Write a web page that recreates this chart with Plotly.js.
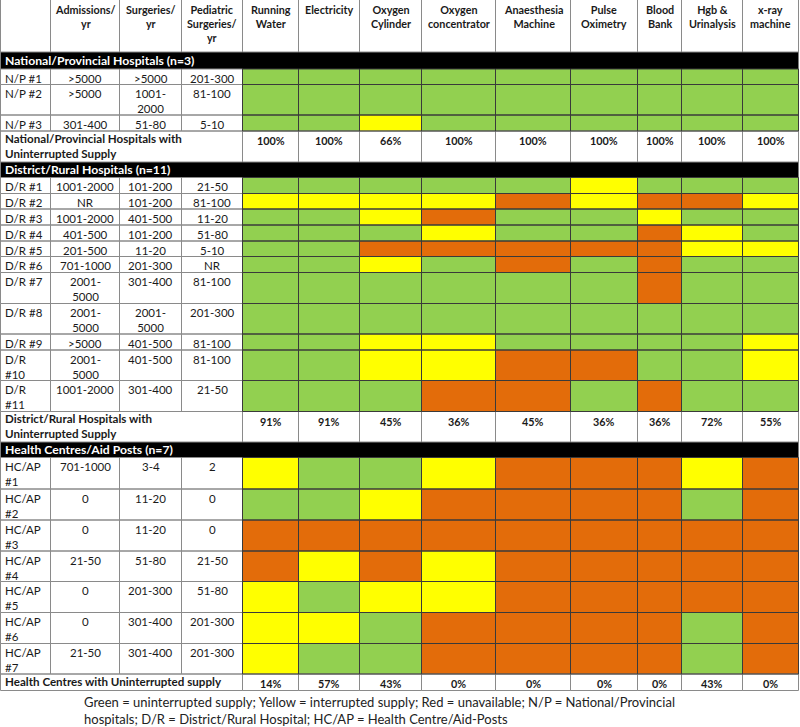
<!DOCTYPE html>
<html><head><meta charset="utf-8">
<script src="https://cdn.plot.ly/plotly-3.0.1.min.js"></script>
<style>html,body{margin:0;padding:0;background:#fff}</style>
</head><body><div id="chart" style="width:800px;height:727px"></div>
<script>
// ---------------- DATA ----------------
const columns = ["", "Admissions/<br>yr", "Surgeries/<br>yr", "Pediatric<br>Surgeries/<br>yr",
  "Running<br>Water", "Electricity", "Oxygen<br>Cylinder", "Oxygen<br>concentrator",
  "Anaesthesia<br>Machine", "Pulse<br>Oximetry", "Blood<br>Bank", "Hgb &<br>Urinalysis", "x-ray<br>machine"];

// Status codes: G = uninterrupted supply, Y = interrupted supply, R = unavailable
const npTitle = "National/Provincial Hospitals (n=3)";
const npLabels = ["N/P #1", "N/P #2", "N/P #3"];
const npAdmissions = [">5000", ">5000", "301-400"];
const npSurgeries = [">5000", "1001-<br>2000", "51-80"];
const npPediatric = ["201-300", "81-100", "5-10"];
const npStatus = ["GGGGGGGGG", "GGGGGGGGG", "GGYGGGGGG"];
const npSummaryLabel = "National/Provincial Hospitals with<br>Uninterrupted Supply";
const npSummary = ["100%", "100%", "66%", "100%", "100%", "100%", "100%", "100%", "100%"];

const drTitle = "District/Rural Hospitals (n=11)";
const drLabels = ["D/R #1", "D/R #2", "D/R #3", "D/R #4", "D/R #5", "D/R #6", "D/R #7", "D/R #8", "D/R #9", "D/R<br>#10", "D/R<br>#11"];
const drAdmissions = ["1001-2000", "NR", "1001-2000", "401-500", "201-500", "701-1000", "2001-<br>5000", "2001-<br>5000", ">5000", "2001-<br>5000", "1001-2000"];
const drSurgeries = ["101-200", "101-200", "401-500", "101-200", "11-20", "201-300", "301-400", "2001-<br>5000", "401-500", "401-500", "301-400"];
const drPediatric = ["21-50", "81-100", "11-20", "51-80", "5-10", "NR", "81-100", "201-300", "81-100", "81-100", "21-50"];
const drStatus = ["GGGGGYGGG", "YYYYRYRRY", "GGYRGGYGG", "GGGYGGRYG", "GGRRRRRYY", "GGYGRGRGG",
  "GGGGGGRGG", "GGGGGGGGG", "GGYYGGGGY", "GGYYRRGGY", "GGGRRGRGG"];
const drSummaryLabel = "District/Rural Hospitals with<br>Uninterrupted Supply";
const drSummary = ["91%", "91%", "45%", "36%", "45%", "36%", "36%", "72%", "55%"];

const hcTitle = "Health Centres/Aid Posts (n=7)";
const hcLabels = ["HC/AP<br>#1", "HC/AP<br>#2", "HC/AP<br>#3", "HC/AP<br>#4", "HC/AP<br>#5", "HC/AP<br>#6", "HC/AP<br>#7"];
const hcAdmissions = ["701-1000", "0", "0", "21-50", "0", "0", "21-50"];
const hcSurgeries = ["3-4", "11-20", "11-20", "51-80", "201-300", "301-400", "301-400"];
const hcPediatric = ["2", "0", "0", "21-50", "51-80", "201-300", "201-300"];
const hcStatus = ["YGGYRRRYR", "GGYRRRRGR", "RRRRRRRRR", "RYRYRRRRR", "YGYYRRRRR", "YYGRRRRGR", "YGGRRRRGR"];
const hcSummaryLabel = "Health Centres with Uninterrupted supply";
const hcSummary = ["14%", "57%", "43%", "0%", "0%", "0%", "0%", "43%", "0%"];

const footnote = "Green = uninterrupted supply; Yellow = interrupted supply; Red = unavailable; N/P = National/Provincial<br>hospitals; D/R = District/Rural Hospital; HC/AP = Health Centre/Aid-Posts";

// ---------------- LAYOUT (grid geometry & styles) ----------------
const colEdges = [0.5, 50.5, 119.5, 181.5, 242.5, 298.5, 359.5, 421.5, 495.5, 570.5, 637.5, 681.5, 742.5, 798.5];
const rowEdges = [0, 52, 69, 84.5, 115, 131, 162, 177.5, 193.5, 209, 225, 241, 256.5, 272.5, 303.5, 334, 350,
  380.5, 411.5, 442, 457.5, 489, 520, 551, 581.5, 612.5, 643.5, 674, 690.5];
const FONT = "Lato, 'Open Sans', sans-serif";
const TXT = "#1a1a1a";
const COLORS = {W: 0, G: 1, Y: 2, R: 3, K: 4};
const colorscale = [[0, "#ffffff"], [0.125, "#ffffff"], [0.125, "#92D050"], [0.375, "#92D050"],
  [0.375, "#FFFF00"], [0.625, "#FFFF00"], [0.625, "#E36C0A"], [0.875, "#E36C0A"], [0.875, "#000000"], [1, "#000000"]];

// ---------------- BUILD ROWS ----------------
const sections = [
  {title: npTitle, labels: npLabels, adm: npAdmissions, surg: npSurgeries, ped: npPediatric, status: npStatus, sumLabel: npSummaryLabel, sum: npSummary},
  {title: drTitle, labels: drLabels, adm: drAdmissions, surg: drSurgeries, ped: drPediatric, status: drStatus, sumLabel: drSummaryLabel, sum: drSummary},
  {title: hcTitle, labels: hcLabels, adm: hcAdmissions, surg: hcSurgeries, ped: hcPediatric, status: hcStatus, sumLabel: hcSummaryLabel, sum: hcSummary}
];
const rows = [{type: "header"}];
sections.forEach(s => {
  rows.push({type: "section", title: s.title});
  s.labels.forEach((l, i) => rows.push({type: "data", texts: [l, s.adm[i], s.surg[i], s.ped[i]], status: s.status[i]}));
  rows.push({type: "summary", label: s.sumLabel, values: s.sum});
});

const nCols = colEdges.length - 1;
const z = rows.map(r => {
  const line = [];
  for (let c = 0; c < nCols; c++) {
    if (r.type === "section") line.push(COLORS.K);
    else if (r.type === "data" && c >= 4) line.push(COLORS[r.status[c - 4]]);
    else line.push(COLORS.W);
  }
  return line;
});

// grid lines
const lightX = [], lightY = [], darkX = [], darkY = [];
function seg(arrX, arrY, x0, y0, x1, y1) { arrX.push(x0, x1, null); arrY.push(y0, y1, null); }
function box(arrX, arrY, x0, x1, y0, y1, skipTop) {
  if (!skipTop) seg(arrX, arrY, x0, y0, x1, y0);
  seg(arrX, arrY, x0, y1, x1, y1);
  seg(arrX, arrY, x0, y0, x0, y1);
  seg(arrX, arrY, x1, y0, x1, y1);
}
rows.forEach((r, ri) => {
  const y0 = rowEdges[ri], y1 = rowEdges[ri + 1];
  if (r.type === "section") return;
  if (r.type === "summary") {
    box(lightX, lightY, colEdges[0], colEdges[4], y0, y1);
    for (let c = 4; c < nCols; c++) box(lightX, lightY, colEdges[c], colEdges[c + 1], y0, y1);
    return;
  }
  for (let c = 0; c < nCols; c++) {
    const colored = r.type === "data" && c >= 4;
    if (colored) box(darkX, darkY, colEdges[c], colEdges[c + 1], y0, y1);
    else box(lightX, lightY, colEdges[c], colEdges[c + 1], y0, y1, r.type === "header");
  }
});

// text
const annotations = [];
function addText(text, x, y, o) {
  annotations.push(Object.assign({
    text: text, x: x, y: y, xref: "x", yref: "y", showarrow: false,
    xanchor: "center", yanchor: "top", align: "center",
    font: {family: FONT, size: 11.5, color: TXT}
  }, o));
}
const cx = c => (colEdges[c] + colEdges[c + 1]) / 2;
rows.forEach((r, ri) => {
  const y0 = rowEdges[ri], y1 = rowEdges[ri + 1];
  if (r.type === "header") {
    columns.forEach((t, c) => { if (t) addText("<b>" + t + "</b>", cx(c), y0 + 0.5, {font: {family: FONT, size: 10.8, color: TXT}}); });
  } else if (r.type === "section") {
    addText("<b>" + r.title + "</b>", 3, (y0 + y1) / 2, {xanchor: "left", yanchor: "middle", align: "left", font: {family: FONT, size: 12.2, color: "#ffffff"}});
  } else if (r.type === "data") {
    r.texts.forEach((t, c) => {
      if (c === 0) addText(t, 3, y0 + 0.5, {xanchor: "left", align: "left"});
      else addText(t, cx(c), y0 + 0.5);
    });
  } else {
    addText("<b>" + r.label + "</b>", 3, y0 - 1.5, {xanchor: "left", align: "left", font: {family: FONT, size: 11.6, color: TXT}});
    r.values.forEach((v, i) => addText("<b>" + v + "</b>", cx(i + 4), y0 + 1, {font: {family: FONT, size: 10.8, color: TXT}}));
  }
});
addText(footnote, 82, rowEdges[rowEdges.length - 1] + 1, {xanchor: "left", align: "left", font: {family: FONT, size: 13, color: "#222"}});

const traces = [
  {type: "heatmap", x: colEdges, y: rowEdges, z: z, zmin: 0, zmax: 4, colorscale: colorscale,
   showscale: false, hoverinfo: "skip", zsmooth: false},
  {type: "scatter", mode: "lines", x: lightX, y: lightY, line: {color: "#8a8a8a", width: 1}, hoverinfo: "skip", connectgaps: false},
  {type: "scatter", mode: "lines", x: darkX, y: darkY, line: {color: "#3a3a3a", width: 1}, hoverinfo: "skip", connectgaps: false}
];
const layout = {
  width: 800, height: 727, margin: {l: 0, r: 0, t: 0, b: 0},
  paper_bgcolor: "#ffffff", plot_bgcolor: "#ffffff", showlegend: false,
  xaxis: {range: [0, 800], visible: false, fixedrange: true},
  yaxis: {range: [727, 0], visible: false, fixedrange: true},
  annotations: annotations
};
Plotly.newPlot("chart", traces, layout, {displayModeBar: false, staticPlot: true});
</script></body></html>
